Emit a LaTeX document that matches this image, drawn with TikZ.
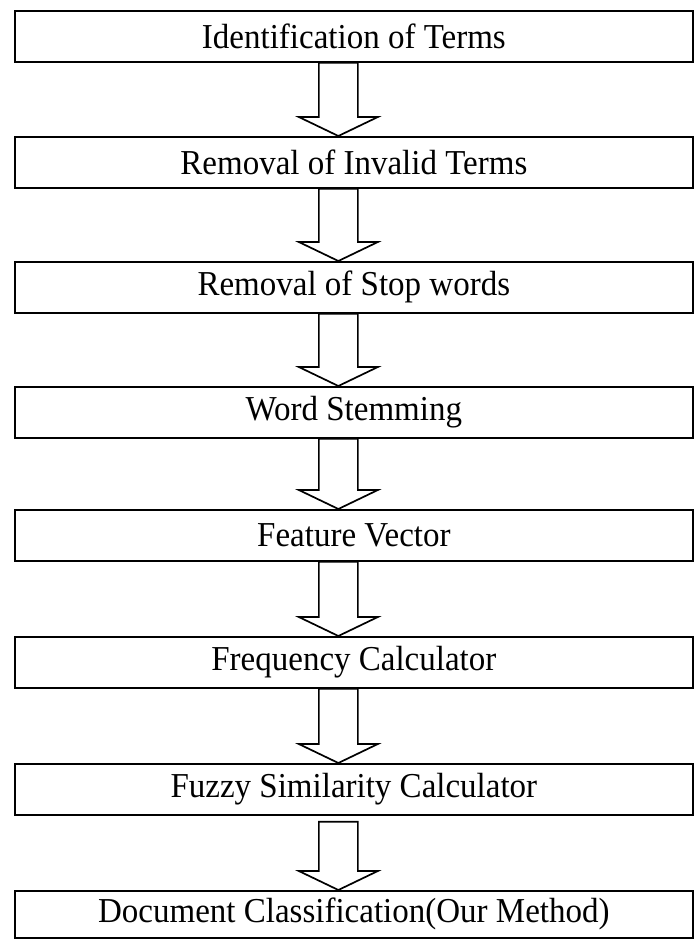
\documentclass[tikz,border=0pt]{standalone}
\usepackage{fontspec}
\usepackage{graphicx}
\setmainfont{Liberation Serif}
\usetikzlibrary{calc}
\newcommand\stagetext[1]{\scalebox{1}[1.06]{#1}}
\tikzset{
  stagebox/.style={draw, line width=1.7pt, minimum width=678pt, minimum height=51pt,
    inner sep=0pt, anchor=north west, font=\fontsize{33}{33}\selectfont},
  blockarrow/.style={draw, line width=1.7pt, line join=miter, fill=white}
}
\newcommand\blkarrow[3][0]{%
  \draw[blockarrow] ($(#2.south)+(-35,#1)$) -- ($(#3.north)+(-35,-19)$)
    -- ($(#3.north)+(-55,-19)$) -- ($(#3.north)+(-15.5,0)$)
    -- ($(#3.north)+(24,-19)$) -- ($(#3.north)+(4,-19)$)
    -- ($(#2.south)+(4,#1)$) -- cycle;}
\begin{document}
\begin{tikzpicture}[x=1pt,y=-1pt]
\useasboundingbox (0,0) rectangle (700,939);
\node[stagebox] (s1) at (14,10) {\stagetext{Identification of Terms}};
\node[stagebox] (s2) at (14,136) {\stagetext{Removal of Invalid Terms}};
\node[stagebox] (s3) at (14,261) {\stagetext{Removal of Stop words}};
\node[stagebox] (s4) at (14,386) {\stagetext{Word Stemming}};
\node[stagebox] (s5) at (14,509) {\stagetext{Feature Vector}};
\node[stagebox] (s6) at (14,636) {\stagetext{Frequency Calculator}};
\node[stagebox] (s7) at (14,763) {\stagetext{Fuzzy Similarity Calculator}};
\node[stagebox, minimum height=47pt] (s8) at (14,890) {\stagetext{Document Classification(Our Method)}};
\blkarrow{s1}{s2}
\blkarrow{s2}{s3}
\blkarrow{s3}{s4}
\blkarrow{s4}{s5}
\blkarrow{s5}{s6}
\blkarrow{s6}{s7}
\blkarrow[6]{s7}{s8}
\end{tikzpicture}
\end{document}
